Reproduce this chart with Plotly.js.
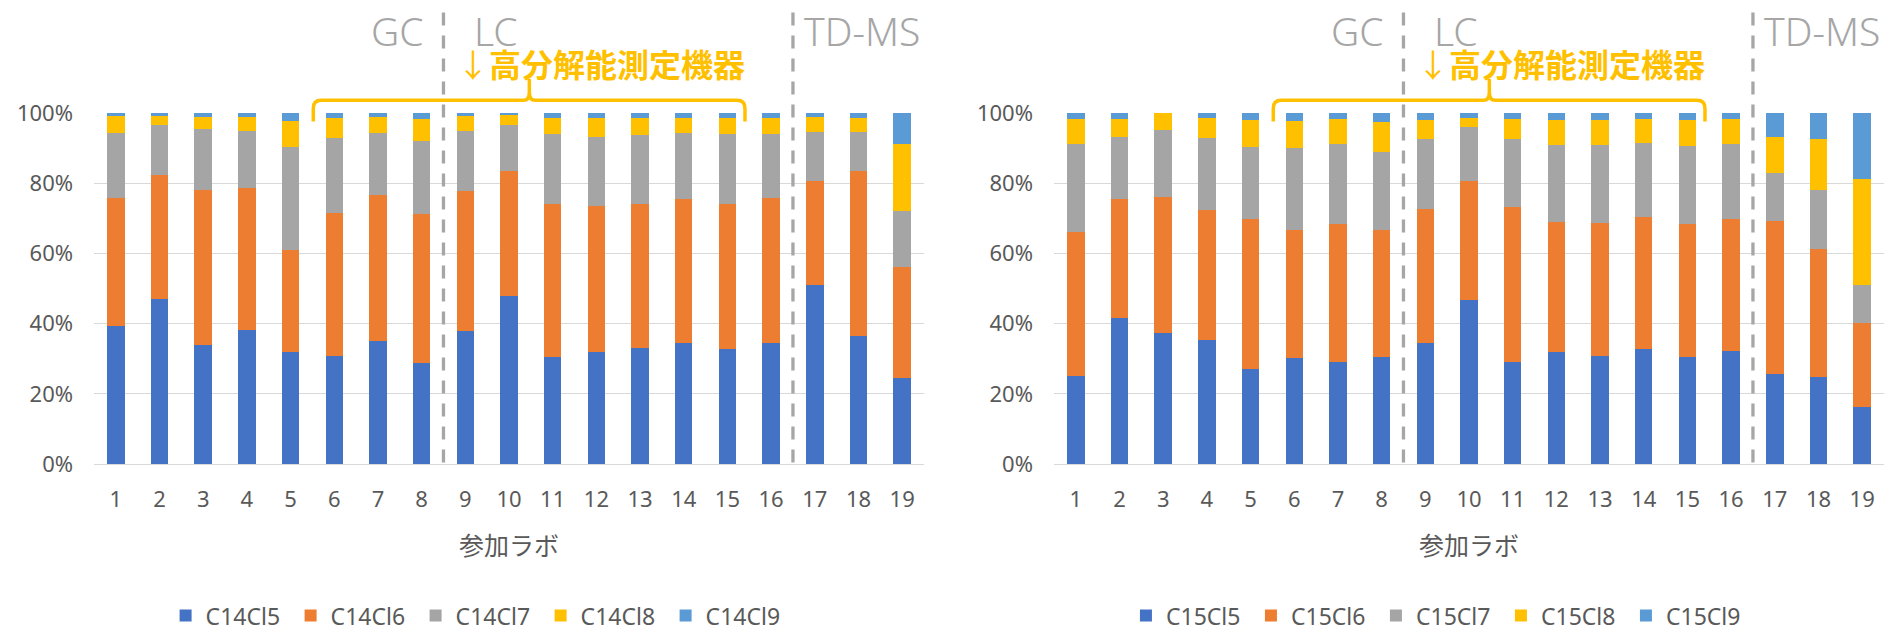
<!DOCTYPE html>
<html>
<head>
<meta charset="utf-8">
<script src="https://cdn.plot.ly/plotly-3.0.1.min.js"></script>
<style>
  body { margin: 0; background: #fff; }
  #plotArea { width: 1891px; height: 632px; }
</style>
</head>
<body>
<div id="plotArea"></div>
<script>
var labs = ["1", "2", "3", "4", "5", "6", "7", "8", "9", "10", "11", "12", "13", "14", "15", "16", "17", "18", "19"];
var labNo = [1, 2, 3, 4, 5, 6, 7, 8, 9, 10, 11, 12, 13, 14, 15, 16, 17, 18, 19];

// C14 (%)
var c14cl5 = [39.2, 46.9, 33.8, 38.3, 31.9, 30.9, 35.1, 28.9, 37.8, 48.0, 30.4, 32.0, 33.0, 34.5, 32.7, 34.5, 51.1, 36.4, 24.4];
var c14cl6 = [36.5, 35.3, 44.4, 40.2, 29.2, 40.5, 41.6, 42.3, 39.9, 35.6, 43.8, 41.4, 41.2, 41.1, 41.5, 41.2, 29.4, 47.2, 31.6];
var c14cl7 = [18.5, 14.3, 17.3, 16.5, 29.1, 21.4, 17.7, 20.7, 17.3, 13.0, 19.9, 19.8, 19.4, 18.6, 19.7, 18.2, 14.2, 11.1, 16.0];
var c14cl8 = [4.9, 2.6, 3.4, 3.9, 7.5, 5.7, 4.5, 6.5, 4.1, 2.7, 4.5, 5.4, 5.1, 4.5, 4.7, 4.8, 4.2, 3.8, 19.3];
var c14cl9 = [0.9, 0.9, 1.1, 1.1, 2.3, 1.5, 1.1, 1.6, 0.9, 0.7, 1.4, 1.4, 1.3, 1.3, 1.4, 1.3, 1.1, 1.5, 8.7];

// C15 (%)
var c15cl5 = [25.2, 41.5, 37.2, 35.3, 27.0, 30.1, 29.1, 30.4, 34.5, 46.7, 29.0, 31.8, 30.9, 32.9, 30.4, 32.1, 25.7, 24.9, 16.1];
var c15cl6 = [41.0, 34.1, 39.0, 37.0, 42.8, 36.5, 39.4, 36.2, 38.2, 33.8, 44.2, 37.1, 37.9, 37.4, 38.1, 37.7, 43.5, 36.4, 24.0];
var c15cl7 = [24.9, 17.7, 19.1, 20.6, 20.4, 23.3, 22.6, 22.2, 19.9, 15.5, 19.3, 21.9, 22.0, 21.2, 22.0, 21.5, 13.6, 16.9, 10.8];
var c15cl8 = [7.3, 5.1, 4.7, 5.8, 7.7, 7.9, 7.3, 8.6, 5.5, 2.7, 5.8, 7.2, 7.2, 6.9, 7.4, 6.9, 10.4, 14.5, 30.4];
var c15cl9 = [1.6, 1.6, 0, 1.3, 2.1, 2.2, 1.6, 2.6, 1.9, 1.3, 1.7, 2.0, 2.0, 1.6, 2.1, 1.8, 6.8, 7.3, 18.7];

var names14 = ["C14Cl5", "C14Cl6", "C14Cl7", "C14Cl8", "C14Cl9"];
var names15 = ["C15Cl5", "C15Cl6", "C15Cl7", "C15Cl8", "C15Cl9"];
var colors = ["#4472C4", "#ED7D31", "#A5A5A5", "#FFC000", "#5B9BD5"];

var font = "Noto Sans, Noto Sans CJK JP, sans-serif";
var grey = "#595959";

function bar(name, vals, color, xa, ya, leg) {
    return {
        type: "bar", name: name, x: labNo, y: vals,
        xaxis: xa, yaxis: ya, legend: leg,
        marker: {color: color, line: {width: 0}},
        hoverinfo: "name+y"
    };
}

var data = [];
var set14 = [c14cl5, c14cl6, c14cl7, c14cl8, c14cl9];
var set15 = [c15cl5, c15cl6, c15cl7, c15cl8, c15cl9];
for (var i = 0; i < 5; i++) {
    data.push(bar(names14[i], set14[i], colors[i], "x", "y", "legend"));
}
for (var i = 0; i < 5; i++) {
    data.push(bar(names15[i], set15[i], colors[i], "x2", "y2", "legend2"));
}

function xax(dom) {
    return {
        domain: dom, range: [0.5, 19.5], tickvals: labNo, ticktext: labs,
        showgrid: false, zeroline: false, showline: false, ticks: "",
        ticklabelstandoff: 20, fixedrange: true,
        tickfont: {size: 22, color: grey},
        title: {text: "参加ラボ", font: {size: 25, color: grey}, standoff: 25}
    };
}
function yax(anchor) {
    return {
        anchor: anchor, range: [0, 1], dtick: 0.2, tickformat: ".0%",
        gridcolor: "#D9D9D9", gridwidth: 1, zeroline: true, zerolinecolor: "#D9D9D9",
        showline: false, ticks: "", ticklabelstandoff: 20, fixedrange: true,
        tickfont: {size: 22, color: grey}
    };
}

// group labels, dashed separators and the bracket, same on both charts
var shapes = [];
var annotations = [];
var refs = [["x", "y"], ["x2", "y2"]];
refs.forEach(function (r) {
    var xr = r[0] + " domain", yr = r[1] + " domain";
    [8 / 19, 16 / 19].forEach(function (xd) {
        shapes.push({type: "line", xref: xr, yref: yr, x0: xd, x1: xd, y0: 0.004, y1: 1.294,
            line: {color: "#A6A6A6", width: 3.3, dash: "13px,10px"}});
    });
    shapes.push({type: "path", xref: xr, yref: yr,
        path: "M0.2642,0.976 L0.2642,1.013 Q0.2642,1.036 0.2738,1.036 L0.5175,1.036 Q0.5245,1.036 0.5245,1.06 L0.5245,1.097 " +
              "L0.5245,1.06 Q0.5245,1.036 0.5315,1.036 L0.7747,1.036 Q0.7843,1.036 0.7843,1.013 L0.7843,0.976",
        line: {color: "#FFC000", width: 3.5}});
    annotations.push({xref: xr, yref: yr, x: 0.400, y: 1.235, xanchor: "right", yanchor: "middle",
        text: "GC", showarrow: false, font: {size: 39, color: "#A6A6A6", family: font, weight: 300}});
    annotations.push({xref: xr, yref: yr, x: 0.455, y: 1.235, xanchor: "left", yanchor: "middle",
        text: "LC", showarrow: false, font: {size: 39, color: "#A6A6A6", family: font, weight: 300}});
    annotations.push({xref: xr, yref: yr, x: 0.853, y: 1.235, xanchor: "left", yanchor: "middle",
        text: "TD-MS", showarrow: false, font: {size: 39, color: "#A6A6A6", family: font, weight: 300}});
    annotations.push({xref: xr, yref: yr, x: 0.435, y: 1.142, xanchor: "left", yanchor: "middle",
        text: "↓<b>高分解能測定機器</b>", showarrow: false,
        font: {size: 32, color: "#FFC000", family: "Noto Sans CJK JP, sans-serif"}});
});

var layout = {
    width: 1891, height: 632,
    margin: {l: 94, r: 7, t: 113, b: 168, autoexpand: false},
    paper_bgcolor: "#fff", plot_bgcolor: "#fff",
    font: {family: font, color: grey},
    barmode: "stack", barnorm: "fraction", bargap: 0.6,
    xaxis: xax([0, 0.46369]),
    yaxis: yax("x"),
    xaxis2: xax([0.53631, 1]),
    yaxis2: yax("x2"),
    legend: {orientation: "h", x: 0.040, xanchor: "left", y: -0.432, yanchor: "middle",
        traceorder: "normal", entrywidth: 80, font: {size: 23, color: grey}},
    legend2: {orientation: "h", x: 0.5765, xanchor: "left", y: -0.432, yanchor: "middle",
        traceorder: "normal", entrywidth: 80, font: {size: 23, color: grey}},
    shapes: shapes,
    annotations: annotations,
    showlegend: true
};

Plotly.newPlot("plotArea", data, layout, {displayModeBar: false, staticPlot: true});
</script>
</body>
</html>
